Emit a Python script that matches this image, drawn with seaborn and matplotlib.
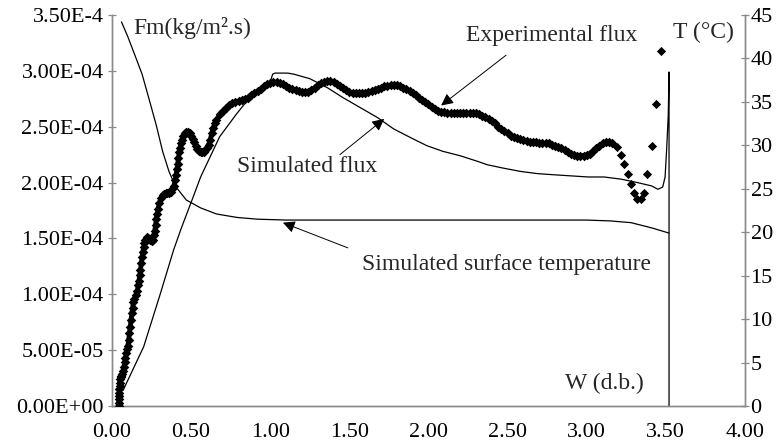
import numpy as np
import pandas as pd
import matplotlib
matplotlib.use("Agg")
import matplotlib.pyplot as plt
from matplotlib.ticker import FixedLocator, FixedFormatter
import seaborn as sns

# ---------------- data ----------------
# Experimental flux, dense part (W d.b., Fm in 1e-4 kg/m2.s)
exp_w = [0.040, 0.041, 0.042, 0.043, 0.044, 0.045, 0.046, 0.047, 0.048, 0.049, 0.050,
         0.055, 0.060, 0.065, 0.070, 0.075, 0.080, 0.085, 0.090, 0.095, 0.100,
         0.105, 0.110, 0.115, 0.120, 0.125, 0.130, 0.135, 0.140, 0.150, 0.160,
         0.165, 0.170, 0.175, 0.180, 0.185, 0.190, 0.195, 0.200, 0.205, 0.210,
         0.220, 0.230, 0.240, 0.250, 0.260, 0.265, 0.270, 0.275, 0.280, 0.285,
         0.290, 0.300, 0.310, 0.320, 0.330, 0.340, 0.350, 0.360, 0.370, 0.380,
         0.390, 0.400, 0.405, 0.410, 0.415, 0.420, 0.425, 0.430, 0.435, 0.440,
         0.450, 0.460, 0.470, 0.480, 0.490, 0.500, 0.510, 0.520, 0.530, 0.540,
         0.550, 0.560, 0.570, 0.580, 0.590, 0.600, 0.610, 0.620, 0.630, 0.640,
         0.650, 0.660, 0.680, 0.700, 0.720, 0.740, 0.760, 0.780, 0.800, 0.820,
         0.840, 0.860, 0.880, 0.900, 0.920, 0.940, 0.960, 0.980, 1.000, 1.020,
         1.040, 1.060, 1.080, 1.100, 1.120, 1.140, 1.160, 1.180, 1.200, 1.220,
         1.240, 1.260, 1.280, 1.300, 1.320, 1.340, 1.360, 1.380, 1.400, 1.420,
         1.440, 1.460, 1.480, 1.500, 1.520, 1.540, 1.560, 1.580, 1.600, 1.620,
         1.640, 1.660, 1.680, 1.700, 1.720, 1.740, 1.760, 1.780, 1.800, 1.820,
         1.840, 1.860, 1.880, 1.900, 1.920, 1.940, 1.960, 1.980, 2.000, 2.020,
         2.040, 2.060, 2.080, 2.100, 2.120, 2.140, 2.160, 2.180, 2.200, 2.220,
         2.240, 2.260, 2.280, 2.300, 2.320, 2.340, 2.360, 2.380, 2.400, 2.420,
         2.440, 2.460, 2.480, 2.500, 2.520, 2.540, 2.560, 2.580, 2.600, 2.620,
         2.640, 2.660, 2.680, 2.700, 2.720, 2.740, 2.760, 2.780, 2.800, 2.820,
         2.840, 2.860, 2.880, 2.900, 2.920, 2.940, 2.960, 2.980, 3.000, 3.020,
         3.040, 3.060, 3.080, 3.100, 3.120, 3.140, 3.160]
exp_f = [-0.06, -0.03, 0.00, 0.03, 0.06, 0.09, 0.12, 0.15, 0.18, 0.21, 0.24,
         0.26, 0.27, 0.29, 0.31, 0.35, 0.39, 0.43, 0.47, 0.51, 0.54,
         0.59, 0.65, 0.71, 0.77, 0.83, 0.88, 0.93, 0.96, 0.99, 1.03,
         1.08, 1.12, 1.17, 1.22, 1.28, 1.33, 1.38, 1.42, 1.46, 1.49,
         1.51, 1.50, 1.49, 1.48, 1.49, 1.53, 1.57, 1.62, 1.67, 1.72,
         1.76, 1.82, 1.86, 1.89, 1.90, 1.91, 1.91, 1.91, 1.92, 1.94,
         1.97, 2.02, 2.07, 2.12, 2.17, 2.22, 2.27, 2.31, 2.35, 2.38,
         2.42, 2.44, 2.45, 2.45, 2.44, 2.42, 2.39, 2.36, 2.33, 2.30,
         2.28, 2.27, 2.27, 2.27, 2.29, 2.31, 2.34, 2.38, 2.44, 2.49,
         2.53, 2.56, 2.61, 2.64, 2.67, 2.69, 2.71, 2.72, 2.73, 2.74,
         2.75, 2.76, 2.78, 2.80, 2.82, 2.84, 2.86, 2.88, 2.89, 2.90,
         2.90, 2.89, 2.88, 2.86, 2.85, 2.84, 2.83, 2.82, 2.81, 2.81,
         2.81, 2.83, 2.85, 2.87, 2.89, 2.90, 2.91, 2.91, 2.90, 2.88,
         2.86, 2.85, 2.83, 2.81, 2.80, 2.80, 2.80, 2.80, 2.80, 2.81,
         2.82, 2.83, 2.84, 2.85, 2.86, 2.86, 2.87, 2.87, 2.87, 2.86,
         2.85, 2.84, 2.82, 2.80, 2.78, 2.76, 2.74, 2.72, 2.70, 2.68,
         2.66, 2.64, 2.63, 2.63, 2.62, 2.62, 2.62, 2.62, 2.62, 2.62,
         2.62, 2.62, 2.62, 2.62, 2.61, 2.60, 2.59, 2.57, 2.55, 2.53,
         2.50, 2.48, 2.46, 2.44, 2.42, 2.41, 2.40, 2.39, 2.38, 2.37,
         2.36, 2.36, 2.36, 2.35, 2.35, 2.35, 2.35, 2.34, 2.33, 2.32,
         2.31, 2.29, 2.27, 2.26, 2.25, 2.24, 2.24, 2.24, 2.25, 2.26,
         2.28, 2.31, 2.33, 2.35, 2.36, 2.36, 2.35]

# Experimental flux, sparse end points
exp_end_w = [3.190, 3.215, 3.235, 3.260, 3.280, 3.300, 3.320, 3.340, 3.360, 3.380, 3.410, 3.440, 3.470]
exp_end_f = [2.32, 2.25, 2.17, 2.08, 1.99, 1.91, 1.85, 1.85, 1.91, 2.08, 2.33, 2.70, 3.18]

# Simulated flux (1e-4 kg/m2.s)
sim_w = [0.07, 0.20, 0.30, 0.39, 0.44, 0.51, 0.56, 0.68, 0.79, 0.87, 0.96, 1.00, 1.015,
         1.03, 1.11, 1.15, 1.25, 1.36, 1.46, 1.57, 1.68, 1.78, 1.89, 1.99, 2.09, 2.20,
         2.31, 2.37, 2.47, 2.58, 2.69, 2.79, 2.90, 3.01, 3.11, 3.22, 3.32, 3.41, 3.45,
         3.48, 3.495, 3.505, 3.515, 3.52, 3.52]
sim_f = [0.14, 0.53, 0.98, 1.40, 1.60, 1.86, 2.05, 2.41, 2.62, 2.76, 2.85, 2.90, 2.97,
         2.98, 2.98, 2.97, 2.93, 2.85, 2.76, 2.67, 2.58, 2.48, 2.40, 2.33, 2.28, 2.24,
         2.19, 2.16, 2.13, 2.10, 2.08, 2.07, 2.06, 2.05, 2.05, 2.03, 2.00, 1.97, 1.94,
         1.96, 2.05, 2.30, 2.60, 2.99, 0.00]

# Simulated surface temperature (deg C)
temp_w = [0.06, 0.10, 0.14, 0.19, 0.23, 0.28, 0.32, 0.36, 0.40, 0.47, 0.56, 0.66, 0.79,
          0.92, 1.10, 1.50, 2.00, 2.50, 3.00, 3.15, 3.28, 3.41, 3.52]
temp_t = [44.2, 42.5, 40.6, 38.2, 35.6, 32.3, 29.3, 27.0, 25.3, 23.7, 22.8, 22.1, 21.7,
          21.5, 21.4, 21.4, 21.4, 21.4, 21.4, 21.3, 21.1, 20.5, 19.9]

x_ticks = [0.0, 0.5, 1.0, 1.5, 2.0, 2.5, 3.0, 3.5, 4.0]
x_labels = ["0.00", "0.50", "1.00", "1.50", "2.00", "2.50", "3.00", "3.50", "4.00"]
y_ticks = [0.0, 0.5, 1.0, 1.5, 2.0, 2.5, 3.0, 3.5]
y_labels = ["0.00E+00", "5.00E-05", "1.00E-04", "1.50E-04", "2.00E-04", "2.50E-04", "3.00E-04", "3.50E-4"]
t_ticks = [0, 5, 10, 15, 20, 25, 30, 35, 40, 45]
t_labels = ["0", "5", "10", "15", "20", "25", "30", "35", "40", "45"]

# ---------------- figure ----------------
sns.set_theme(style="white")
plt.rcParams["font.family"] = ["Liberation Serif", "DejaVu Serif"]

W, H = 776, 448
fig = plt.figure(figsize=(W / 100, H / 100), dpi=100)
ax = fig.add_axes([112 / W, 1 - 406 / H, (745 - 112) / W, (406 - 15) / H])
ax2 = ax.twinx()

df_exp = pd.DataFrame({"W": exp_w, "F": exp_f})
df_end = pd.DataFrame({"W": exp_end_w, "F": exp_end_f})
df_sim = pd.DataFrame({"W": sim_w, "F": sim_f})
df_t = pd.DataFrame({"W": temp_w, "T": temp_t})

sns.lineplot(data=df_exp, x="W", y="F", ax=ax, color="black", lw=3.4, sort=False,
             estimator=None)
sns.scatterplot(data=df_exp, x="W", y="F", ax=ax, color="black", marker="D", s=24,
                linewidth=0, zorder=4)
sns.scatterplot(data=df_end, x="W", y="F", ax=ax, color="black", marker="D", s=22,
                linewidth=0, zorder=4)
sns.lineplot(data=df_sim, x="W", y="F", ax=ax, color="black", lw=0.9, sort=False,
             estimator=None)
sns.lineplot(data=df_t, x="W", y="T", ax=ax2, color="black", lw=0.9, sort=False,
             estimator=None)

ax.set_xlim(0, 4.0)
ax.set_ylim(0, 3.5)
ax2.set_ylim(0, 45)
ax.set_xlabel("")
ax.set_ylabel("")
ax2.set_ylabel("")

ax.xaxis.set_major_locator(FixedLocator(x_ticks))
ax.xaxis.set_major_formatter(FixedFormatter(x_labels))
ax.yaxis.set_major_locator(FixedLocator(y_ticks))
ax.yaxis.set_major_formatter(FixedFormatter(y_labels))
ax2.yaxis.set_major_locator(FixedLocator(t_ticks))
ax2.yaxis.set_major_formatter(FixedFormatter(t_labels))

spine_col = "#8a8a8a"
for a in (ax, ax2):
    for s in a.spines.values():
        s.set_color(spine_col)
        s.set_linewidth(1.0)
    a.spines["top"].set_visible(False)
    a.tick_params(direction="inout", length=6, width=0.9, color=spine_col,
                  labelsize=16, labelcolor="black")
ax.tick_params(axis="x", pad=9)
ax.tick_params(axis="y", pad=3)
ax2.tick_params(axis="y", pad=1)
for a in (ax, ax2):
    a.set_facecolor("none")
    a.grid(False)
ax.set_zorder(2)

fs = 17
fig.text(133 / W, 1 - 28 / H, "Fm(kg/m².s)", ha="left", va="center", fontsize=fs)
fig.text(703 / W, 1 - 32 / H, "T (°C)", ha="center", va="center", fontsize=fs)
fig.text(604 / W, 1 - 383 / H, "W (d.b.)", ha="center", va="center", fontsize=fs)

arrow = dict(arrowstyle="-|>", color="black", lw=0.7, mutation_scale=18, shrinkA=0, shrinkB=0)
ax.annotate("", xy=(2.08, 2.69), xytext=(2.49, 3.14), arrowprops=arrow)
ax.text(2.78, 3.32, "Experimental flux", ha="center", va="center", fontsize=fs)
ax.annotate("", xy=(1.72, 2.57), xytext=(1.44, 2.25), arrowprops=arrow)
ax.text(1.23, 2.14, "Simulated flux", ha="center", va="center", fontsize=fs)
ax2.annotate("", xy=(1.08, 21.1), xytext=(1.49, 18.2), arrowprops=arrow)
ax2.text(2.49, 16.3, "Simulated surface temperature", ha="center", va="center", fontsize=fs)

fig.savefig("out.png", dpi=100)
